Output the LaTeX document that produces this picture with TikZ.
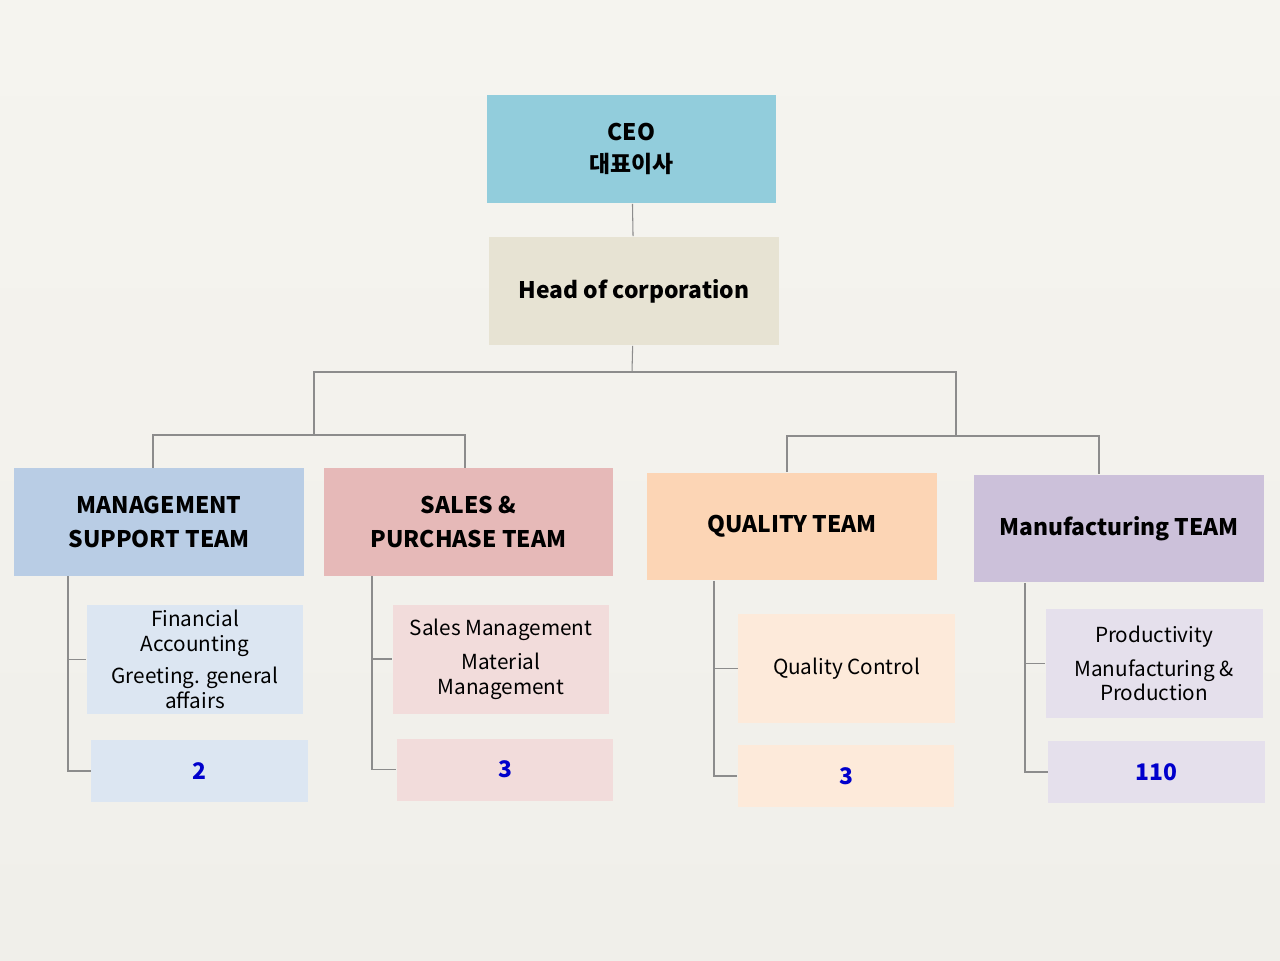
\documentclass[tikz,border=0pt]{standalone}
\usepackage{fontspec}
\setmainfont{Noto Sans CJK KR}
\usepackage{tikz}
\definecolor{bgtop}{HTML}{F5F4EF}
\definecolor{bgbot}{HTML}{F0EFEA}
\definecolor{ceoc}{HTML}{92CDDC}
\definecolor{headc}{HTML}{E7E3D3}
\definecolor{mgmtc}{HTML}{B9CDE5}
\definecolor{mgmtl}{HTML}{DCE6F2}
\definecolor{salesc}{HTML}{E6B9B8}
\definecolor{salesl}{HTML}{F2DCDB}
\definecolor{qualc}{HTML}{FCD5B5}
\definecolor{quall}{HTML}{FDEADA}
\definecolor{manufc}{HTML}{CCC1DA}
\definecolor{manufl}{HTML}{E5E0EC}
\definecolor{numc}{HTML}{0000CC}
\definecolor{linec}{HTML}{8C8C8C}
\tikzstyle{top}=[rectangle,minimum width=5.8cm,minimum height=2.18cm,inner sep=0pt,align=center,font=\fontsize{13}{18}\selectfont\bfseries]
\tikzstyle{team}=[rectangle,minimum width=5.8cm,minimum height=2.16cm,inner sep=0pt,align=center,font=\fontsize{13}{19.5}\selectfont\bfseries]
\tikzstyle{duty}=[rectangle,minimum width=4.34cm,minimum height=2.18cm,inner sep=0pt,align=center,font=\fontsize{11.8}{14.2}\selectfont]
\tikzstyle{count}=[rectangle,minimum width=4.34cm,minimum height=1.24cm,inner sep=0pt,align=center,text=numc,font=\fontsize{13}{16}\selectfont\bfseries]
\tikzstyle{conn}=[draw=linec,line width=0.6pt]

\begin{document}
\begin{tikzpicture}[x=0.02cm,y=-0.02cm]
\fill[top color=bgtop,bottom color=bgbot] (0,0) rectangle (1280,960);
\useasboundingbox (0,0) rectangle (1280,960);

\node[top, fill=ceoc] at (631.5,149) (ceo) {CEO\\대표이사};
\node[top, fill=headc] at (634,291) (head) {Head of corporation};

\node[team, fill=mgmtc] at (159,522) (mgmt) {MANAGEMENT\\SUPPORT TEAM};
\node[team, fill=salesc] at (468.5,522) (sales) {SALES \&\\PURCHASE TEAM};
\node[team, fill=qualc] at (792,526.5) (qual) {QUALITY TEAM};
\node[team, fill=manufc] at (1119,528.5) (manuf) {Manufacturing TEAM};

\node[duty, fill=mgmtl] at (195,659.5) (mgmt1) {Financial\\Accounting\\[4pt]Greeting. general\\affairs};
\node[count, fill=mgmtl] at (199.5,771) (mgmt2) {2};
\node[duty, fill=salesl] at (501,659) (sales1) {Sales Management\\[5pt]Material\\Management};
\node[count, fill=salesl] at (505,769.5) (sales2) {3};
\node[duty, fill=quall] at (846.5,668.5) (qual1) {Quality Control};
\node[count, fill=quall] at (846,776) (qual2) {3};
\node[duty, fill=manufl] at (1154,663.5) (manuf1) {Productivity\\[5pt]Manufacturing \&\\Production};
\node[count, fill=manufl] at (1156.5,772) (manuf2) {110};

% tree
\coordinate (hj) at (632,372);
\coordinate (lj) at (314,435);
\coordinate (rj) at (956,436);
\coordinate (lb1) at (153,435);
\coordinate (lb2) at (465,435);
\coordinate (rb1) at (787,436);
\coordinate (rb2) at (1099,436);
\draw[conn] (ceo) -- (head);
\draw[conn] (head) -- (hj);
\draw[conn] (lj) |- (hj) -| (rj);
\draw[conn] (lb1 |- mgmt.north) -- (lb1) -- (lb2) -- (lb2 |- sales.north);
\draw[conn] (rb1 |- qual.north) -- (rb1) -- (rb2) -- (rb2 |- manuf.north);

% side lines
\coordinate (mv) at (68,0);
\coordinate (sv) at (372,0);
\coordinate (qv) at (714,0);
\coordinate (fv) at (1025,0);
\draw[conn] (mv |- mgmt.south) |- (mgmt2.west);
\draw[conn] (mv |- mgmt1.west) -- (mgmt1.west);
\draw[conn] (sv |- sales.south) |- (sales2.west);
\draw[conn] (sv |- sales1.west) -- (sales1.west);
\draw[conn] (qv |- qual.south) |- (qual2.west);
\draw[conn] (qv |- qual1.west) -- (qual1.west);
\draw[conn] (fv |- manuf.south) |- (manuf2.west);
\draw[conn] (fv |- manuf1.west) -- (manuf1.west);
\end{tikzpicture}
\end{document}
